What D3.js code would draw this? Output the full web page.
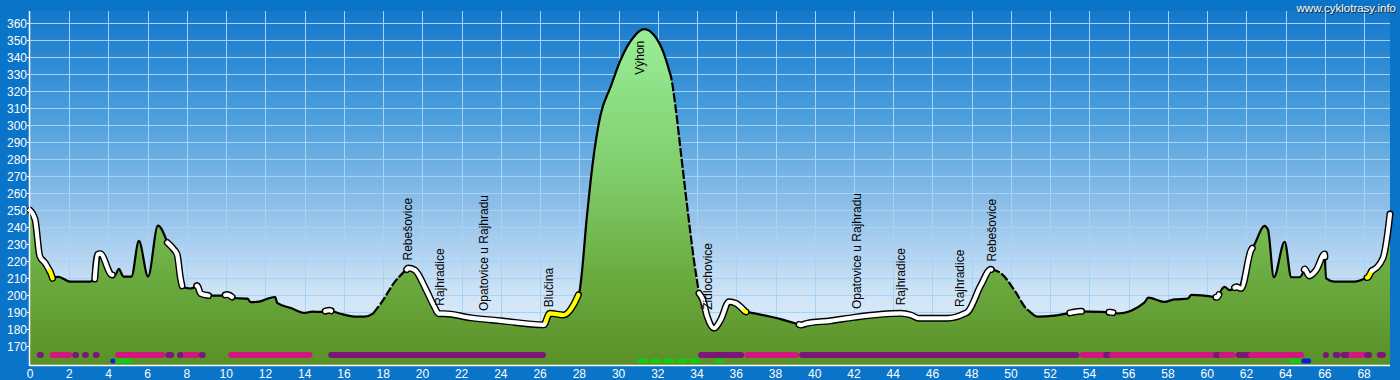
<!DOCTYPE html>
<html>
<head>
<meta charset="utf-8">
<script src="https://cdn.jsdelivr.net/npm/d3@7/dist/d3.min.js"></script>
<style>
  html, body { margin: 0; padding: 0; background: #0a74c8; }
  svg { display: block; }
</style>
</head>
<body>
<svg id="chart" width="1400" height="380"></svg>
<script>
// elevation profile (km, m)
const profileKm = [0, 0.26, 0.5, 0.77, 1.02, 1.15, 1.45, 2.05, 3.07, 3.3, 3.44, 3.58, 4.18, 4.35, 4.52, 4.77, 5.17, 5.55, 6.02, 6.52,
  7.0, 7.33, 7.5, 7.67, 7.76, 8.18, 8.52, 8.7, 9.12, 9.72, 10.06, 10.4, 11.08, 11.25, 11.68, 12.1, 12.5, 12.6, 13.3, 13.98,
  14.4, 14.83, 15.26, 16.0, 16.53, 17.05, 17.48, 17.9, 18.6, 19.27, 19.6, 20.2, 20.6, 20.83, 21.1, 22.5, 24.0, 26.2, 26.5, 27.2,
  27.7, 27.98, 28.4, 28.66, 29.08, 29.6, 30.1, 30.78, 31.29, 31.8, 32.3, 32.65, 32.9, 33.16, 33.5, 33.84, 34.1, 34.3, 34.52, 34.86,
  35.2, 35.63, 35.97, 36.48, 37.76, 38.27, 39.29, 39.6, 40.8, 42.0, 43.37, 44.39, 44.9, 45.3, 46.77, 47.6, 47.8, 48.47, 48.98, 49.5,
  50.17, 50.85, 51.36, 52.2, 53.06, 53.57, 54.6, 55.1, 55.44, 56.8, 57.0, 57.82, 58.33, 59.0, 59.2, 60.5, 60.88, 61.15, 61.48, 61.73,
  62.24, 62.4, 62.92, 63.1, 63.4, 63.95, 64.29, 64.71, 64.97, 65.2, 65.56, 65.99, 66.07, 66.5, 67.5, 68.2, 68.37, 68.96, 69.2, 69.32];
const profileEle = [250, 244.5, 223, 219, 214, 210, 210.8, 208, 208, 209.6, 224, 224.5, 212, 212, 215.5, 211, 211, 232, 211, 241,
  231, 227, 224, 210, 205, 204, 205.7, 201, 199.8, 199.8, 200.4, 198.4, 198, 196, 196.3, 198, 199, 195.5, 192.5, 189.6,
  190.4, 190.2, 191.2, 188.6, 187.5, 187.5, 189.2, 195.5, 208, 216, 215, 203, 193.5, 189.2, 189.2, 186.7, 185, 182.6, 189.4, 188.4,
  194.3, 201, 248, 275.6, 306, 322.7, 338.4, 352.1, 356.5, 353.1, 342.4, 329.6, 311, 285.5, 252, 220.8, 201.2, 197.2, 187.4, 180.6,
  185.5, 196.2, 195.3, 190.3, 187.4, 186, 182.5, 183.5, 185, 187, 188.8, 189.4, 188.4, 186.5, 186.5, 189, 190.3, 206, 215.3, 212.9,
  203.1, 191.4, 187.4, 188, 189.8, 190.6, 190.2, 190, 189.3, 195.7, 198.6, 196.1, 197.6, 198, 200.2, 198.8, 205, 203, 205, 204,
  226.6, 229.6, 240.8, 238.5, 210.6, 231.5, 210.6, 210.6, 215.5, 211.4, 214.9, 224.3, 210, 208, 208, 210.6, 214, 221.8, 236.5, 247.8];

// how the route line is drawn along the way
const segStart = [0, 1.0, 1.15, 3.3, 4.2, 7.0, 7.75, 8.5, 9.1, 9.95, 10.3, 15.05, 15.35, 17.5, 19.2, 26.3, 27.95, 32.6, 34.1, 36.4,
  36.5, 39.2, 49.0, 50.9, 53.0, 53.6, 55.0, 55.2, 60.45, 60.6, 61.4, 62.3, 64.95, 66.0, 68.15, 68.4];
const segEnd = [1.0, 1.15, 3.3, 4.2, 7.0, 7.75, 8.5, 9.1, 9.95, 10.3, 15.05, 15.35, 17.5, 19.2, 26.3, 27.95, 32.6, 34.1, 36.4, 36.5,
  39.2, 49.0, 50.9, 53.0, 53.6, 55.0, 55.2, 60.45, 60.6, 61.4, 62.3, 64.95, 66.0, 68.15, 68.4, 69.32];
const segType = ["white", "yellow", "solid", "white", "solid", "white", "solid", "white", "solid", "white", "solid", "white", "solid", "dash", "white", "yellow", "solid", "dash", "white", "yellow",
  "solid", "white", "dash", "solid", "white", "solid", "white", "solid", "white", "solid", "white", "solid", "white", "solid", "yellow", "white"];

// surface bars (upper row)
const surfStart = [0.4, 1.0, 2.15, 2.65, 3.2, 4.35, 6.9, 7.55, 7.8, 8.65, 10.1, 15.2, 34.05, 36.4, 39.2, 53.5, 54.9, 55.0, 60.45, 60.6, 61.45, 62.0, 62.1, 65.9, 66.4, 67.0, 67.2, 68.1, 68.8];
const surfEnd = [0.65, 2.15, 2.5, 3.0, 3.55, 6.9, 7.35, 7.8, 8.65, 8.9, 14.4, 26.3, 36.4, 39.2, 53.5, 54.9, 55.0, 60.45, 60.6, 61.45, 61.9, 62.05, 64.95, 66.2, 66.8, 67.1, 68.1, 68.3, 68.95];
const surfKind = ["p", "m", "p", "p", "p", "m", "p", "p", "m", "p", "m", "p", "p", "m", "p", "m", "p", "m", "p", "m", "p", "p", "m", "p", "p", "p", "m", "p", "p"];

// lower row
const rowStart = [4.1, 4.35, 30.95, 34.9, 64.2, 64.8];
const rowEnd = [4.35, 5.2, 34.45, 35.35, 64.8, 65.3];
const rowKind = ["b", "g", "gd", "gd", "g", "b"];

// places
const placeNames = ["Rebešovice", "Rajhradice", "Opatovice u Rajhradu", "Blučina", "Výhon", "Židlochovice",
  "Opatovice u Rajhradu", "Rajhradice", "Rajhradice", "Rebešovice"];
const placeKm = [19.25, 20.9, 23.1, 26.45, 31.05, 34.55, 42.15, 44.4, 47.4, 49.0];

const xTicks = d3.range(0, 69, 2);
const yTicks = d3.range(170, 361, 10);

const W = 1400, H = 380;
const plotL = 30, plotR = 1390, plotT = 11, plotB = 365;

const svg = d3.select("#chart");
const defs = svg.append("defs");

const x = d3.scaleLinear().domain([0, 69.32]).range([plotL, plotR]);
const y = d3.scaleLinear().domain([159, 367.2]).range([plotB, plotT]);

// gradients
const bg = defs.append("linearGradient").attr("id", "bg")
  .attr("x1", 0).attr("y1", 0).attr("x2", 0).attr("y2", 1);
[[0, "#1478cb"], [0.3, "#4c9fdc"], [0.55, "#8fbfe9"], [0.8, "#cfe4f6"], [1, "#f0f7fd"]]
  .forEach(s => bg.append("stop").attr("offset", s[0]).attr("stop-color", s[1]));

const gr = defs.append("linearGradient").attr("id", "green")
  .attr("gradientUnits", "userSpaceOnUse")
  .attr("x1", 0).attr("y1", y(360)).attr("x2", 0).attr("y2", plotB);
[[0, "#9af09a"], [0.45, "#7fcc6a"], [0.75, "#6aaa3e"], [1, "#5a9028"]]
  .forEach(s => gr.append("stop").attr("offset", s[0]).attr("stop-color", s[1]));

svg.append("rect").attr("width", W).attr("height", H).attr("fill", "#0a74c8");
svg.append("rect").attr("x", plotL).attr("y", plotT)
  .attr("width", plotR - plotL).attr("height", plotB - plotT).attr("fill", "url(#bg)");

// grid
svg.append("g").selectAll("line").data(yTicks).join("line")
  .attr("x1", plotL).attr("x2", plotR)
  .attr("y1", d => Math.round(y(d)) + 0.5).attr("y2", d => Math.round(y(d)) + 0.5)
  .attr("stroke", "#a3d3f6").attr("stroke-width", 1);
svg.append("g").selectAll("line").data(xTicks.filter(d => d > 0)).join("line")
  .attr("y1", plotT).attr("y2", plotB)
  .attr("x1", d => Math.round(x(d)) + 0.5).attr("x2", d => Math.round(x(d)) + 0.5)
  .attr("stroke", "#a3d3f6").attr("stroke-width", 1);

const pts = profileKm.map((k, i) => [k, profileEle[i]]);
const eleAt = k => {
  const i = d3.bisector(d => d[0]).left(pts, k);
  if (i <= 0) return pts[0][1];
  if (i >= pts.length) return pts[pts.length - 1][1];
  const a = pts[i - 1], b = pts[i];
  return a[1] + (b[1] - a[1]) * (k - a[0]) / (b[0] - a[0]);
};

const curve = d3.curveMonotoneX;
const area = d3.area().x(d => x(d[0])).y0(plotB).y1(d => y(d[1])).curve(curve);
const line = d3.line().x(d => x(d[0])).y(d => y(d[1])).curve(curve);

svg.append("path").datum(pts).attr("d", area).attr("fill", "url(#green)");

// route line, piece by piece
const piece = (a, b) => {
  const inner = pts.filter(p => p[0] > a && p[0] < b);
  return [[a, eleAt(a)], ...inner, [b, eleAt(b)]];
};
const segs = segStart.map((s, i) => ({ s, e: segEnd[i], t: segType[i], p: piece(s, segEnd[i]) }));
const lineG = svg.append("g").attr("fill", "none").attr("stroke-linejoin", "round");

segs.filter(d => d.t === "solid").forEach(d => {
  lineG.append("path").attr("d", line(d.p)).attr("stroke", "#000").attr("stroke-width", 2.2);
});
segs.filter(d => d.t === "dash").forEach(d => {
  lineG.append("path").attr("d", line(d.p)).attr("stroke", "#000").attr("stroke-width", 2.2)
    .attr("stroke-dasharray", "9,2");
});
segs.filter(d => d.t === "white" || d.t === "yellow").forEach(d => {
  lineG.append("path").attr("d", line(d.p)).attr("stroke", "#000").attr("stroke-width", 7)
    .attr("stroke-linecap", "round");
});
segs.filter(d => d.t === "white" || d.t === "yellow").forEach(d => {
  lineG.append("path").attr("d", line(d.p)).attr("stroke", d.t === "white" ? "#fff" : "#ffff00")
    .attr("stroke-width", 4.2).attr("stroke-linecap", "round");
});

// surface bars
const surfColor = { p: "#7b1877", m: "#d2177f" };
svg.append("g").selectAll("line").data(surfStart.map((s, i) => ({ s, e: surfEnd[i], k: surfKind[i] })))
  .join("line")
  .attr("x1", d => x(d.s) + 3).attr("x2", d => x(d.e) - 3)
  .attr("y1", 355).attr("y2", 355)
  .attr("stroke", d => surfColor[d.k]).attr("stroke-width", 6).attr("stroke-linecap", "round");

const rowColor = { b: "#0a1edc", g: "#16c814", gd: "#16c814" };
svg.append("g").selectAll("line").data(rowStart.map((s, i) => ({ s, e: rowEnd[i], k: rowKind[i] })))
  .join("line")
  .attr("x1", d => x(d.s) + 2.5).attr("x2", d => x(d.e) - 2.5)
  .attr("y1", 361).attr("y2", 361)
  .attr("stroke", d => rowColor[d.k]).attr("stroke-width", 5)
  .attr("stroke-linecap", "round")
  .attr("stroke-dasharray", d => d.k === "gd" ? "6,7" : null);

// place labels
const lab = svg.append("g").attr("font-family", "'Liberation Sans', Arial, sans-serif")
  .attr("font-size", 12).attr("fill", "#000");
placeNames.forEach((n, i) => {
  const k = placeKm[i];
  const py = y(eleAt(k));
  const below = py < 60;
  lab.append("text")
    .attr("transform", `translate(${x(k)},${below ? py + 8 : py - 8}) rotate(-90)`)
    .attr("dy", "0.36em")
    .attr("text-anchor", below ? "end" : "start")
    .text(n);
});

// axes
svg.append("line").attr("x1", plotL - 0.5).attr("x2", plotL - 0.5).attr("y1", plotT).attr("y2", plotB + 1)
  .attr("stroke", "#fff").attr("stroke-width", 1.5);
svg.append("line").attr("x1", plotL).attr("x2", plotR).attr("y1", plotB + 0.5).attr("y2", plotB + 0.5)
  .attr("stroke", "#fff").attr("stroke-width", 1.5);

const axisFont = "'Liberation Sans', Arial, sans-serif";
const yAx = svg.append("g").attr("font-family", axisFont).attr("font-size", 12).attr("fill", "#fff");
yAx.selectAll("line").data(yTicks).join("line")
  .attr("x1", plotL - 3).attr("x2", plotL)
  .attr("y1", d => Math.round(y(d)) + 0.5).attr("y2", d => Math.round(y(d)) + 0.5)
  .attr("stroke", "#fff");
yAx.selectAll("text").data(yTicks).join("text")
  .attr("x", plotL - 3).attr("y", d => y(d)).attr("dy", "0.36em")
  .attr("text-anchor", "end").text(d => d);

const xAx = svg.append("g").attr("font-family", axisFont).attr("font-size", 12).attr("fill", "#fff");
xAx.selectAll("text").data(xTicks).join("text")
  .attr("x", d => x(d)).attr("y", 377.5)
  .attr("text-anchor", "middle").text(d => d);

// site mark
svg.append("text").attr("x", 1396).attr("y", 11.5).attr("text-anchor", "end")
  .attr("font-family", axisFont).attr("font-size", 11.5).attr("fill", "#222")
  .attr("dx", 1).attr("dy", 1).text("www.cyklotrasy.info");
svg.append("text").attr("x", 1396).attr("y", 11.5).attr("text-anchor", "end")
  .attr("font-family", axisFont).attr("font-size", 11.5).attr("fill", "#fff")
  .text("www.cyklotrasy.info");
</script>
</body>
</html>
